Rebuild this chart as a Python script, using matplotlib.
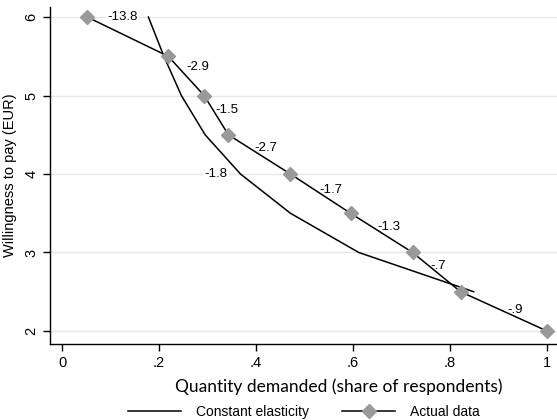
import matplotlib
matplotlib.use("Agg")
import matplotlib.pyplot as plt

# 数据
price = [6.0, 5.5, 5.0, 4.5, 4.0, 3.5, 3.0, 2.5, 2.0]
share_actual = [0.052, 0.219, 0.293, 0.343, 0.471, 0.595, 0.723, 0.822, 1.0]

price_const = [6.0, 5.5, 5.0, 4.5, 4.0, 3.5, 3.0, 2.5]
share_const = [0.178, 0.21, 0.246, 0.295, 0.368, 0.471, 0.612, 0.849]

arc_labels = ["-13.8", "-2.9", "-1.5", "-2.7", "-1.7", "-1.3", "-.7", "-.9"]
arc_pos = [(0.125, 6.0), (0.28, 5.37), (0.34, 4.82), (0.42, 4.33),
           (0.555, 3.8), (0.675, 3.33), (0.775, 2.83), (0.935, 2.27)]
const_label = "-1.8"
const_pos = (0.318, 4.0)

plt.rcParams["font.family"] = ["Liberation Sans", "DejaVu Sans"]

fig = plt.figure(figsize=(5.57, 4.2), dpi=100)
ax = fig.add_axes([0.0898, 0.181, 0.912, 0.802])

ax.plot(share_const, price_const, color="black", lw=1.1, label="Constant elasticity", zorder=3)
ax.plot(share_actual, price, color="black", lw=1.1, marker="D", markersize=6.8,
        markerfacecolor="#999999", markeredgecolor="#999999", label="Actual data", zorder=4)

box = {"facecolor": "white", "edgecolor": "none", "pad": 1}
for txt, (x, y) in zip(arc_labels, arc_pos):
    ax.text(x, y, txt, fontsize=9.5, ha="center", va="center", bbox=box, zorder=2)
ax.text(const_pos[0], const_pos[1], const_label, fontsize=9.5, ha="center", va="center",
        bbox=box, zorder=2)

ax.set_xlim(-0.025, 1.023)
ax.set_ylim(1.834, 6.127)
ax.set_xticks([0, 0.2, 0.4, 0.6, 0.8, 1.0])
ax.set_xticklabels(["0", ".2", ".4", ".6", ".8", "1"])
ax.set_yticks([2, 3, 4, 5, 6])
ax.set_yticklabels(["2", "3", "4", "5", "6"], rotation=90, va="center")

for side in ("top", "right"):
    ax.spines[side].set_visible(False)
ax.spines["left"].set_linewidth(1.0)
ax.spines["bottom"].set_linewidth(1.0)
ax.tick_params(direction="out", length=5, width=1, labelsize=10.5)
ax.yaxis.grid(True, color="#e8e8e8", lw=1.0, zorder=0)
ax.set_axisbelow(True)

ax.set_xlabel("Quantity demanded (share of respondents)", fontsize=12.5,
              family=["Lato", "DejaVu Sans"])
ax.xaxis.set_label_coords(0.568, -0.101)
ax.set_ylabel("Willingness to pay (EUR)", fontsize=10.5)
ax.yaxis.set_label_coords(-0.065, 0.5)

fig.legend(loc="center", bbox_to_anchor=(0.546, 0.02), ncol=2, frameon=False,
           fontsize=10, handlelength=3.8, handletextpad=1.1, columnspacing=2.4)

fig.savefig("out.png", dpi=100)
